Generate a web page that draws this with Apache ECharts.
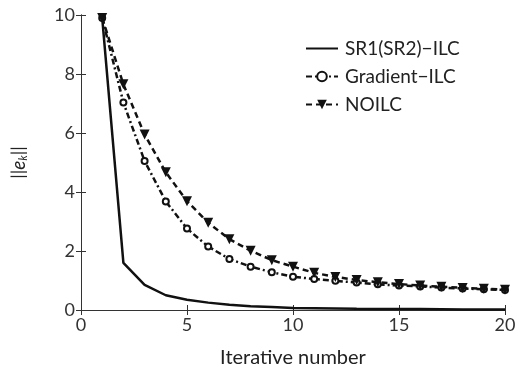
<!DOCTYPE html>
<html>
<head>
<meta charset="utf-8">
<script src="https://cdn.jsdelivr.net/npm/echarts@6/dist/echarts.min.js"></script>
<style>html,body{margin:0;padding:0;background:#fff}#c{width:520px;height:380px}</style>
</head>
<body>
<div id="c"></div>
<script>
const iterations = [1,2,3,4,5,6,7,8,9,10,11,12,13,14,15,16,17,18,19,20];
const sr1 = [9.9,1.6,0.85,0.5,0.35,0.25,0.18,0.13,0.1,0.07,0.06,0.05,0.04,0.035,0.03,0.03,0.025,0.02,0.02,0.02];
const gradient = [9.9,7.03,5.05,3.68,2.76,2.15,1.73,1.47,1.28,1.13,1.05,0.99,0.93,0.87,0.83,0.8,0.76,0.73,0.7,0.68];
const noilc = [9.9,7.65,5.95,4.67,3.69,2.96,2.4,2.01,1.69,1.47,1.26,1.12,1.02,0.94,0.88,0.83,0.79,0.75,0.72,0.69];
const xTicks = [0,5,10,15,20];
const yTicks = [0,2,4,6,8,10];
const names = ['SR1(SR2)\u2212ILC','Gradient\u2212ILC','NOILC'];

const pairs = v => iterations.map((x,i)=>[x,v[i]]);
const FONT = 'Lato, "Open Sans", sans-serif';
const axisCommon = {
  axisLine:{show:true,lineStyle:{color:'#333',width:1}},
  axisTick:{show:true,inside:true,length:5,lineStyle:{color:'#333'}},
  splitLine:{show:false}
};
const chart = echarts.init(document.getElementById('c'));
chart.setOption({
  animation:false,
  grid:{left:81,right:15,top:15,bottom:70},
  legend:{
    orient:'vertical', left:300, top:34, itemWidth:32, itemHeight:12, itemGap:9,
    textStyle:{fontSize:19,fontFamily:FONT,color:'#222',padding:[0,0,0,2]},
    data:[{name:names[0],itemStyle:{opacity:0}},{name:names[1]},{name:names[2]}]
  },
  xAxis:[
    Object.assign({type:'value',min:xTicks[0],max:xTicks[xTicks.length-1],interval:5,
      axisLabel:{fontSize:18,fontFamily:FONT,color:'#333',margin:6},
      name:'Iterative number',nameLocation:'middle',nameGap:38,
      nameTextStyle:{fontSize:20,fontFamily:FONT,color:'#222'}},axisCommon),
    Object.assign({type:'value',position:'top',min:0,max:20,interval:5,axisLabel:{show:false}},axisCommon)
  ],
  yAxis:[
    Object.assign({type:'value',min:yTicks[0],max:yTicks[yTicks.length-1],interval:2,
      axisLabel:{fontSize:18,fontFamily:FONT,color:'#333',margin:6},
      name:'||{i|e}{s|k}||',nameLocation:'middle',nameGap:52,
      nameTextStyle:{fontSize:18,fontFamily:FONT,color:'#222',
        rich:{i:{fontStyle:'italic',fontSize:19,fontFamily:FONT,color:'#222'},
              s:{fontStyle:'italic',fontSize:11,fontFamily:FONT,color:'#222',padding:[10,0,0,0]}}}},axisCommon),
    Object.assign({type:'value',position:'right',min:0,max:10,interval:2,axisLabel:{show:false}},axisCommon)
  ],
  series:[
    {name:names[0],type:'line',data:pairs(sr1),symbol:'circle',symbolSize:1,showSymbol:false,
      lineStyle:{color:'#111',width:2.5},itemStyle:{color:'#111'},z:3},
    {name:names[1],type:'line',data:pairs(gradient),symbol:'emptyCircle',symbolSize:6,showAllSymbol:true,
      lineStyle:{color:'#111',width:2.5,type:[6,3,2,3]},
      itemStyle:{color:'#111',borderColor:'#111',borderWidth:2.5},z:4},
    {name:names[2],type:'line',data:pairs(noilc),symbol:'triangle',symbolRotate:180,symbolSize:10,showAllSymbol:true,
      lineStyle:{color:'#111',width:2.5,type:[6,4]},itemStyle:{color:'#111'},z:5}
  ]
});
</script>
</body>
</html>
